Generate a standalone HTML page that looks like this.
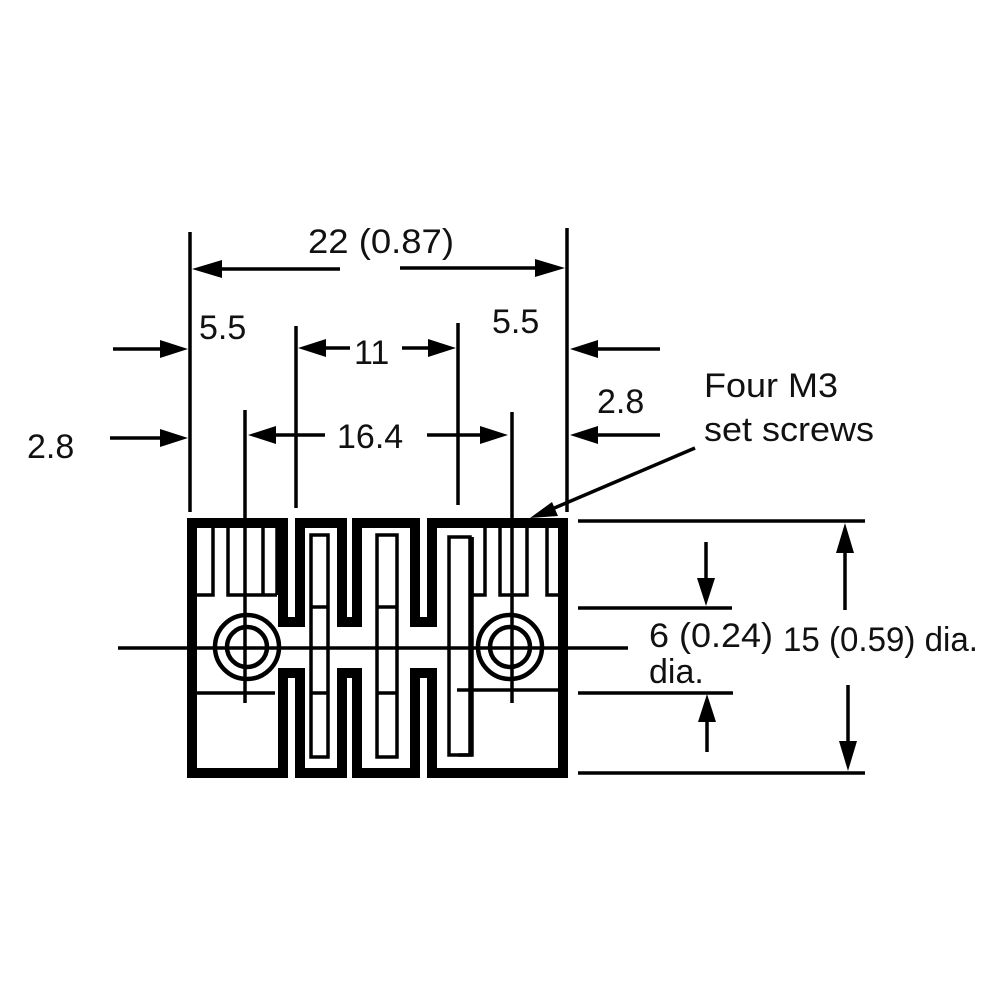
<!DOCTYPE html>
<html><head><meta charset="utf-8"><style>
html,body{margin:0;padding:0;background:#fff;}
svg{display:block}
text{font-family:"Liberation Sans",sans-serif;font-size:34px;fill:#111}
</style></head><body>
<svg width="1000" height="1000" viewBox="0 0 1000 1000" xmlns="http://www.w3.org/2000/svg">
<rect width="1000" height="1000" fill="#fff"/>
<g stroke="#000" fill="none">
<path stroke-width="10" stroke-linejoin="miter" d="M192,773 L192,523 L283,523 L283,622 L300,622 L300,523 L342,523 L342,622 L357,622 L357,523 L415,523 L415,622 L432,622 L432,523 L563,523 L563,773 L432,773 L432,673 L415,673 L415,773 L357,773 L357,673 L342,673 L342,773 L300,773 L300,673 L283,673 L283,773 Z"/>
<g stroke-width="3.5">
<path d="M213,528 V595 H197 M228,528 V595 H277 M263,528 V595 M277,528 V595"/>
<path d="M197,693 H275"/>
<path d="M472,537 V595 H485 V528 M500,528 V595 H527 V528 M547,528 V595 H558"/>
<path d="M472,537 V755 H458 M457,690 H558"/>
<rect x="311" y="535" width="17" height="222"/>
<rect x="377" y="535" width="20" height="222"/>
<rect x="449" y="537" width="21" height="218"/>
<path d="M311,607 H328 M311,693 H328 M377,607 H397 M377,693 H397"/>
</g>
<g stroke-width="4.5">
<circle cx="247" cy="647" r="32"/>
<circle cx="247" cy="647" r="20"/>
<circle cx="510" cy="647" r="32"/>
<circle cx="510" cy="647" r="20"/>
</g>
<g stroke-width="3.5">
<path d="M118,648 H628"/>
<path d="M245,410 V703 M512,412 V703"/>
<path d="M190,232 V512 M567,228 V512 M296,326 V508 M458,323 V505"/>
<path d="M340,269 H200 M400,268 H555"/>
<path d="M113,349 H180 M350,348 H305 M402,348 H448 M660,349 H578"/>
<path d="M110,438 H180 M325,435 H256 M427,435 H500 M660,435 H578"/>
<path d="M695,448 L545,512"/>
<path d="M578,521 H865 M578,608 H732 M578,693 H733 M578,773 H865"/>
<path d="M706,542 V596 M707,752 V703 M845,610 V533 M848,685 V760"/>
</g>
</g>
<g fill="#000">
<polygon points="192,269 222,260 222,278"/>
<polygon points="565,268 535,259 535,277"/>
<polygon points="188,349 160,340 160,358"/>
<polygon points="298,348 326,339 326,357"/>
<polygon points="456,348 428,339 428,357"/>
<polygon points="570,349 598,340 598,358"/>
<polygon points="188,438 160,429 160,447"/>
<polygon points="248,435 276,426 276,444"/>
<polygon points="508,435 480,426 480,444"/>
<polygon points="570,435 598,426 598,444"/>
<polygon points="530,518 552,502 558,516"/>
<polygon points="706,606 697,578 715,578"/>
<polygon points="707,694 698,722 716,722"/>
<polygon points="845,523 836,553 854,553"/>
<polygon points="848,771 839,741 857,741"/>
</g>
<text x="308" y="253" textLength="146" lengthAdjust="spacingAndGlyphs">22 (0.87)</text>
<text x="199" y="339">5.5</text>
<text x="354" y="364">11</text>
<text x="492" y="333">5.5</text>
<text x="597" y="413">2.8</text>
<text x="27" y="458">2.8</text>
<text x="337" y="448">16.4</text>
<text x="704" y="397" textLength="134" lengthAdjust="spacingAndGlyphs">Four M3</text>
<text x="704" y="441" textLength="170" lengthAdjust="spacingAndGlyphs">set screws</text>
<text x="649" y="647" textLength="124" lengthAdjust="spacingAndGlyphs">6 (0.24)</text>
<text x="649" y="683">dia.</text>
<text x="783" y="651" textLength="195" lengthAdjust="spacingAndGlyphs">15 (0.59) dia.</text>
</svg>
</body></html>
